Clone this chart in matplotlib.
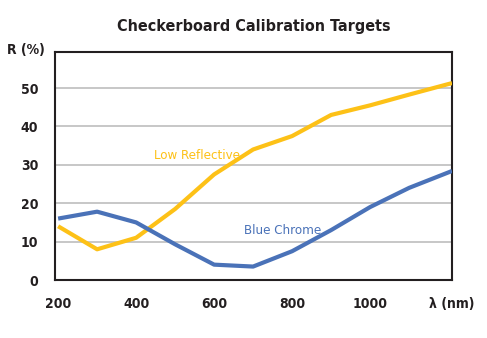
import matplotlib
matplotlib.use("Agg")
import matplotlib.pyplot as plt

wavelength = [200, 300, 400, 500, 600, 700, 800, 900, 1000, 1100, 1210]
blue_chrome = [16.0, 17.8, 15.0, 9.3, 4.0, 3.5, 7.5, 13.0, 19.0, 24.0, 28.4]
low_reflective = [14.0, 8.0, 11.0, 18.5, 27.5, 34.0, 37.5, 43.0, 45.5, 48.3, 51.3]
xticks = [200, 400, 600, 800, 1000]
yticks = [0, 10, 20, 30, 40, 50]

FONT = ['DejaVu Sans']
ST = 'condensed'
YELLOW = '#FDC117'
BLUE = '#4A72B8'
DARK = '#231F20'

fig = plt.figure(figsize=(4.87, 3.38), dpi=100)
ax = fig.add_axes([55/487, 1-280/338, 397/487, 228/338])

ax.plot(wavelength, low_reflective, color=YELLOW, lw=3, solid_capstyle='butt', zorder=3)
ax.plot(wavelength, blue_chrome, color=BLUE, lw=3, solid_capstyle='butt', zorder=3)

ax.set_xlim(192, 1210)
ax.set_ylim(0, 59.4)
ax.set_yticks(yticks)
ax.set_xticks(xticks)
ax.set_yticklabels([str(v) for v in yticks], family=FONT, stretch=ST, fontweight='bold', fontsize=10, color=DARK)
ax.set_xticklabels([str(v) for v in xticks], family=FONT, stretch=ST, fontweight='bold', fontsize=10, color=DARK)
ax.tick_params(axis='both', length=0)
ax.tick_params(axis='x', pad=12)
ax.tick_params(axis='y', pad=12)
for v in yticks[1:]:
    ax.axhline(v, color='#BDBDBD', lw=1.2, zorder=1)
for s in ax.spines.values():
    s.set_color(DARK)
    s.set_linewidth(1.5)

ax.text(446, 32.5, 'Low Reflective', color=YELLOW, family=FONT, stretch=ST, fontsize=9.5, ha='left', va='center')
ax.text(676, 13, 'Blue Chrome', color=BLUE, family=FONT, stretch=ST, fontsize=9.5, ha='left', va='center')

fig.text(45/487, 1-50/338, 'R (%)', family=FONT, stretch=ST, fontweight='bold', fontsize=10, ha='right', va='center', color=DARK)
fig.text(452/487, 1-304/338, 'λ (nm)', family=FONT, stretch=ST, fontweight='bold', fontsize=10, ha='center', va='center', color=DARK)
fig.text(254/487, 1-27/338, 'Checkerboard Calibration Targets', family=FONT, stretch=ST, fontweight='bold', fontsize=11.5, ha='center', va='center', color=DARK)

fig.savefig('out.png', dpi=100)
